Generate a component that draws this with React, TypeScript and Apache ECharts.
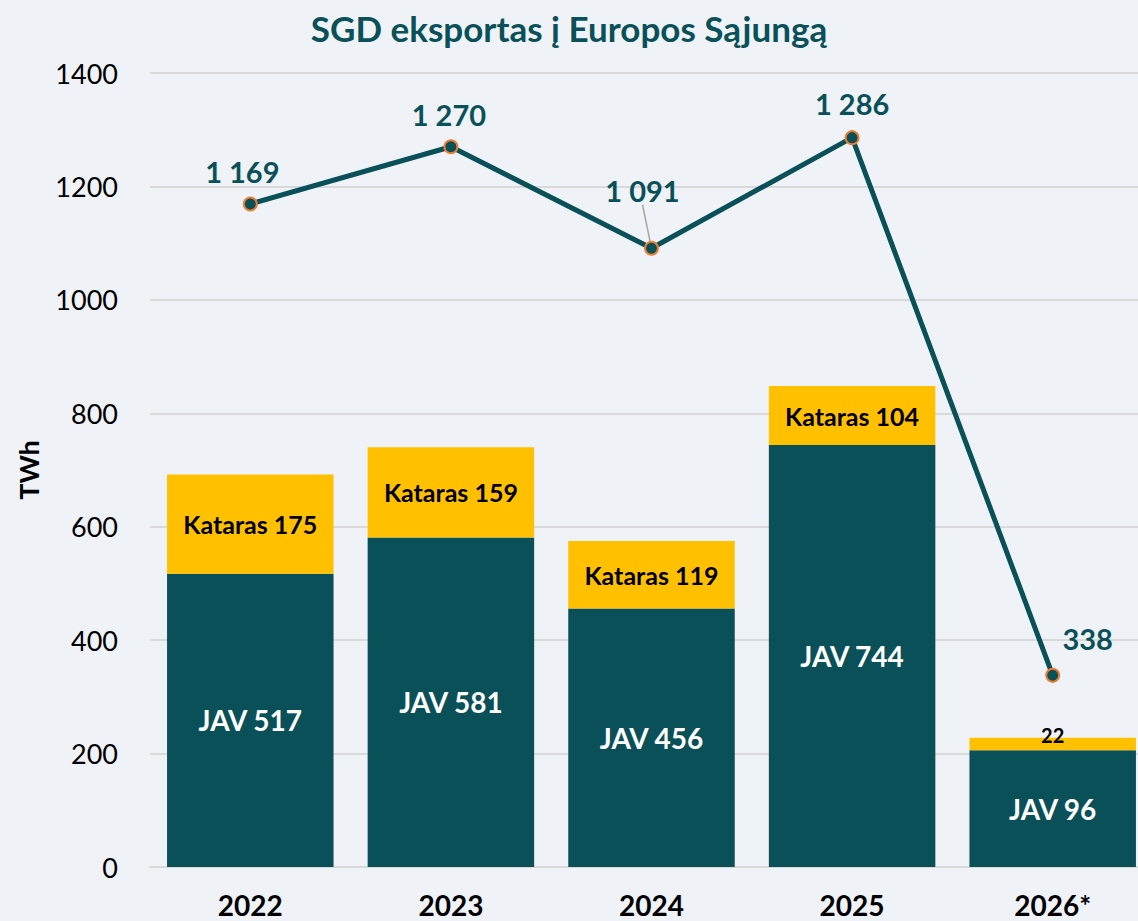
import React, { useEffect, useRef } from "react";
import * as echarts from "echarts";

const categories = ["2022", "2023", "2024", "2025", "2026*"];
const javValues = [517, 581, 456, 744, 206];
const javLabels = ["JAV 517", "JAV 581", "JAV 456", "JAV 744", "JAV 96"];
const katarValues = [175, 159, 119, 104, 22];
const katarLabels = ["Kataras 175", "Kataras 159", "Kataras 119", "Kataras 104", "22"];
const totalValues = [1169, 1270, 1091, 1286, 338];
const totalLabels = ["1 169", "1 270", "1 091", "1 286", "338"];
const yTicks = [0, 200, 400, 600, 800, 1000, 1200, 1400];

const TEAL = "#0a5058";
const GOLD = "#ffc000";
const FONT = "Lato, 'Open Sans', sans-serif";

const labelShift = [
  { dx: -8, dy: -6 },
  { dx: -2, dy: -5 },
  { dx: -9, dy: -31 },
  { dx: 0, dy: -7 },
  { dx: 35, dy: -10 },
];

export default function App() {
  const ref = useRef<HTMLDivElement>(null);
  useEffect(() => {
    if (!ref.current) return;
    const chart = echarts.init(ref.current, undefined, { renderer: "svg" });
    chart.setOption({
      animation: false,
      backgroundColor: "#eff3f7",
      textStyle: { fontFamily: FONT },
      title: {
        text: "SGD eksportas į Europos Sąjungą",
        left: "center",
        top: 5,
        textStyle: { fontFamily: FONT, fontSize: 35, fontWeight: "bold", color: TEAL },
      },
      grid: { left: 150, width: 1003, top: 73, bottom: 54, outerBoundsMode: "none", containLabel: false },
      xAxis: {
        type: "category",
        data: categories,
        axisTick: { show: false },
        axisLine: { show: true, lineStyle: { color: "#d9d9d9", width: 2 } },
        axisLabel: { fontFamily: FONT, fontSize: 28, fontWeight: "bold", color: "#000", margin: 24 },
      },
      yAxis: {
        type: "value",
        min: yTicks[0],
        max: yTicks[yTicks.length - 1],
        interval: 200,
        name: "TWh",
        nameLocation: "middle",
        nameRotate: 90,
        nameGap: 108,
        nameTextStyle: { fontFamily: FONT, fontSize: 27, fontWeight: "bold", color: "#000" },
        axisLine: { show: false },
        axisTick: { show: false },
        splitLine: { lineStyle: { color: "#d9d9d9", width: 2 } },
        axisLabel: {
          fontFamily: FONT,
          fontSize: 27,
          color: "#000",
          margin: 32,
          formatter: (v: number) => String(v),
        },
      },
      series: [
        {
          name: "JAV",
          type: "bar",
          stack: "total",
          barCategoryGap: "17%",
          data: javValues,
          itemStyle: { color: TEAL },
          label: {
            show: true,
            position: "inside",
            formatter: (p: any) => javLabels[p.dataIndex],
            fontFamily: FONT,
            fontSize: 28,
            fontWeight: "bold",
            color: "#fff",
          },
        },
        {
          name: "Kataras",
          type: "bar",
          stack: "total",
          barCategoryGap: "17%",
          data: katarValues.map((v, i) =>
            i === 4
              ? { value: v, label: { fontSize: 20, offset: [0, -9] } }
              : v
          ),
          itemStyle: { color: GOLD },
          label: {
            show: true,
            position: "inside",
            formatter: (p: any) => katarLabels[p.dataIndex],
            fontFamily: FONT,
            fontSize: 25,
            fontWeight: "bold",
            color: "#000",
          },
        },
        {
          name: "Viso",
          type: "line",
          data: totalValues.map((v, i) =>
            i === 2
              ? { value: v, labelLine: { show: true, lineStyle: { color: "#a6a6a6", width: 1.5 } } }
              : v
          ),
          z: 5,
          symbol: "circle",
          symbolSize: 13,
          lineStyle: { color: TEAL, width: 5 },
          itemStyle: { color: TEAL, borderColor: "#ed7d31", borderWidth: 2 },
          label: {
            show: true,
            position: "top",
            formatter: (p: any) => totalLabels[p.dataIndex],
            fontFamily: FONT,
            fontSize: 29,
            fontWeight: "bold",
            color: TEAL,
          },
          labelLayout: (p: any) => labelShift[p.dataIndex],
        },
      ],
    });
    return () => chart.dispose();
  }, []);
  return (
    <div
      ref={ref}
      style={{ position: "fixed", left: 0, top: 0, width: 1138, height: 921 }}
    />
  );
}
